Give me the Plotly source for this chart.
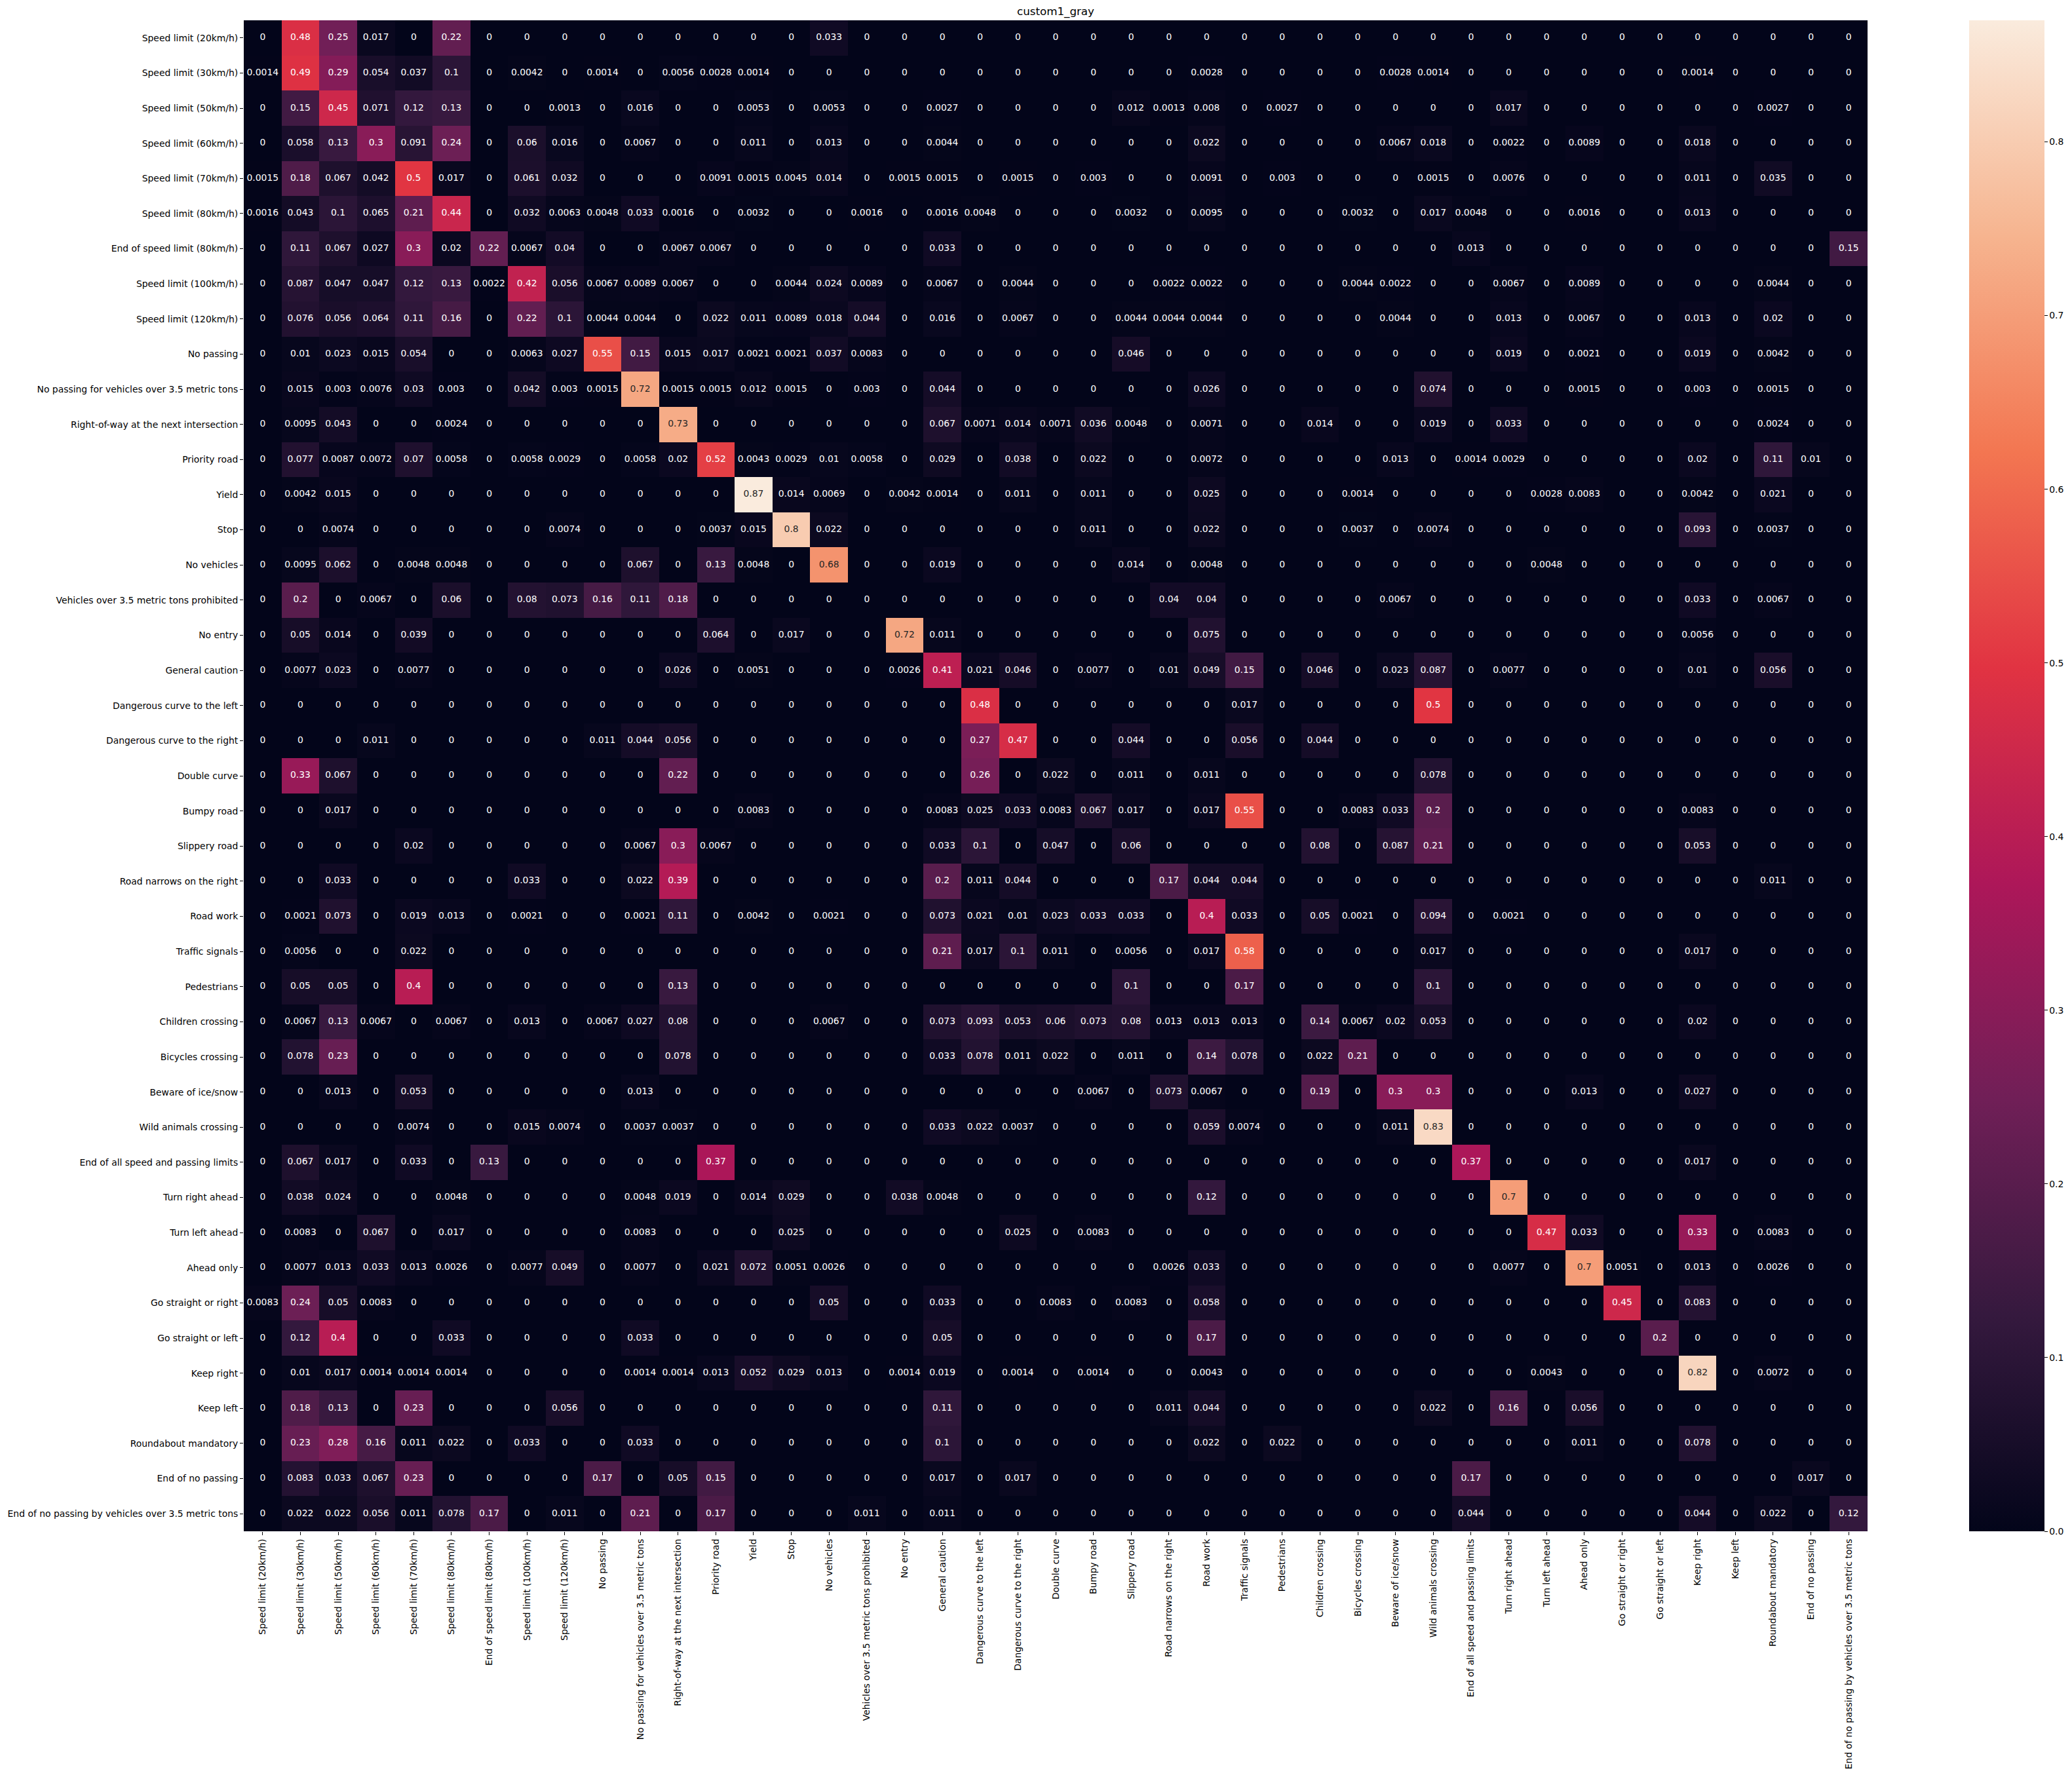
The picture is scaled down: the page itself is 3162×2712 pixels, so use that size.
import plotly.graph_objects as go

class_names = [
    "Speed limit (20km/h)", "Speed limit (30km/h)", "Speed limit (50km/h)",
    "Speed limit (60km/h)", "Speed limit (70km/h)", "Speed limit (80km/h)",
    "End of speed limit (80km/h)", "Speed limit (100km/h)", "Speed limit (120km/h)",
    "No passing", "No passing for vehicles over 3.5 metric tons",
    "Right-of-way at the next intersection", "Priority road", "Yield", "Stop",
    "No vehicles", "Vehicles over 3.5 metric tons prohibited", "No entry",
    "General caution", "Dangerous curve to the left", "Dangerous curve to the right",
    "Double curve", "Bumpy road", "Slippery road", "Road narrows on the right",
    "Road work", "Traffic signals", "Pedestrians", "Children crossing",
    "Bicycles crossing", "Beware of ice/snow", "Wild animals crossing",
    "End of all speed and passing limits", "Turn right ahead", "Turn left ahead",
    "Ahead only", "Go straight or right", "Go straight or left", "Keep right",
    "Keep left", "Roundabout mandatory", "End of no passing",
    "End of no passing by vehicles over 3.5 metric tons",
]

# Normalised confusion matrix (rows = true class, columns = predicted class)
cm_rows = [
    [0, .48, .25, .017, 0, .22, 0, 0, 0, 0, 0, 0, 0, 0, 0, .033, 0, 0, 0, 0, 0, 0,
     0, 0, 0, 0, 0, 0, 0, 0, 0, 0, 0, 0, 0, 0, 0, 0, 0, 0, 0, 0, 0],
    [.0014, .49, .29, .054, .037, .1, 0, .0042, 0, .0014, 0, .0056, .0028, .0014, 0, 0, 0, 0, 0, 0, 0, 0,
     0, 0, 0, .0028, 0, 0, 0, 0, .0028, .0014, 0, 0, 0, 0, 0, 0, .0014, 0, 0, 0, 0],
    [0, .15, .45, .071, .12, .13, 0, 0, .0013, 0, .016, 0, 0, .0053, 0, .0053, 0, 0, .0027, 0, 0, 0,
     0, .012, .0013, .008, 0, .0027, 0, 0, 0, 0, 0, .017, 0, 0, 0, 0, 0, 0, .0027, 0, 0],
    [0, .058, .13, .3, .091, .24, 0, .06, .016, 0, .0067, 0, 0, .011, 0, .013, 0, 0, .0044, 0, 0, 0,
     0, 0, 0, .022, 0, 0, 0, 0, .0067, .018, 0, .0022, 0, .0089, 0, 0, .018, 0, 0, 0, 0],
    [.0015, .18, .067, .042, .5, .017, 0, .061, .032, 0, 0, 0, .0091, .0015, .0045, .014, 0, .0015, .0015, 0, .0015, 0,
     .003, 0, 0, .0091, 0, .003, 0, 0, 0, .0015, 0, .0076, 0, 0, 0, 0, .011, 0, .035, 0, 0],
    [.0016, .043, .1, .065, .21, .44, 0, .032, .0063, .0048, .033, .0016, 0, .0032, 0, 0, .0016, 0, .0016, .0048, 0, 0,
     0, .0032, 0, .0095, 0, 0, 0, .0032, 0, .017, .0048, 0, 0, .0016, 0, 0, .013, 0, 0, 0, 0],
    [0, .11, .067, .027, .3, .02, .22, .0067, .04, 0, 0, .0067, .0067, 0, 0, 0, 0, 0, .033, 0, 0, 0,
     0, 0, 0, 0, 0, 0, 0, 0, 0, 0, .013, 0, 0, 0, 0, 0, 0, 0, 0, 0, .15],
    [0, .087, .047, .047, .12, .13, .0022, .42, .056, .0067, .0089, .0067, 0, 0, .0044, .024, .0089, 0, .0067, 0, .0044, 0,
     0, 0, .0022, .0022, 0, 0, 0, .0044, .0022, 0, 0, .0067, 0, .0089, 0, 0, 0, 0, .0044, 0, 0],
    [0, .076, .056, .064, .11, .16, 0, .22, .1, .0044, .0044, 0, .022, .011, .0089, .018, .044, 0, .016, 0, .0067, 0,
     0, .0044, .0044, .0044, 0, 0, 0, 0, .0044, 0, 0, .013, 0, .0067, 0, 0, .013, 0, .02, 0, 0],
    [0, .01, .023, .015, .054, 0, 0, .0063, .027, .55, .15, .015, .017, .0021, .0021, .037, .0083, 0, 0, 0, 0, 0,
     0, .046, 0, 0, 0, 0, 0, 0, 0, 0, 0, .019, 0, .0021, 0, 0, .019, 0, .0042, 0, 0],
    [0, .015, .003, .0076, .03, .003, 0, .042, .003, .0015, .72, .0015, .0015, .012, .0015, 0, .003, 0, .044, 0, 0, 0,
     0, 0, 0, .026, 0, 0, 0, 0, 0, .074, 0, 0, 0, .0015, 0, 0, .003, 0, .0015, 0, 0],
    [0, .0095, .043, 0, 0, .0024, 0, 0, 0, 0, 0, .73, 0, 0, 0, 0, 0, 0, .067, .0071, .014, .0071,
     .036, .0048, 0, .0071, 0, 0, .014, 0, 0, .019, 0, .033, 0, 0, 0, 0, 0, 0, .0024, 0, 0],
    [0, .077, .0087, .0072, .07, .0058, 0, .0058, .0029, 0, .0058, .02, .52, .0043, .0029, .01, .0058, 0, .029, 0, .038, 0,
     .022, 0, 0, .0072, 0, 0, 0, 0, .013, 0, .0014, .0029, 0, 0, 0, 0, .02, 0, .11, .01, 0],
    [0, .0042, .015, 0, 0, 0, 0, 0, 0, 0, 0, 0, 0, .87, .014, .0069, 0, .0042, .0014, 0, .011, 0,
     .011, 0, 0, .025, 0, 0, 0, .0014, 0, 0, 0, 0, .0028, .0083, 0, 0, .0042, 0, .021, 0, 0],
    [0, 0, .0074, 0, 0, 0, 0, 0, .0074, 0, 0, 0, .0037, .015, .8, .022, 0, 0, 0, 0, 0, 0,
     .011, 0, 0, .022, 0, 0, 0, .0037, 0, .0074, 0, 0, 0, 0, 0, 0, .093, 0, .0037, 0, 0],
    [0, .0095, .062, 0, .0048, .0048, 0, 0, 0, 0, .067, 0, .13, .0048, 0, .68, 0, 0, .019, 0, 0, 0,
     0, .014, 0, .0048, 0, 0, 0, 0, 0, 0, 0, 0, .0048, 0, 0, 0, 0, 0, 0, 0, 0],
    [0, .2, 0, .0067, 0, .06, 0, .08, .073, .16, .11, .18, 0, 0, 0, 0, 0, 0, 0, 0, 0, 0,
     0, 0, .04, .04, 0, 0, 0, 0, .0067, 0, 0, 0, 0, 0, 0, 0, .033, 0, .0067, 0, 0],
    [0, .05, .014, 0, .039, 0, 0, 0, 0, 0, 0, 0, .064, 0, .017, 0, 0, .72, .011, 0, 0, 0,
     0, 0, 0, .075, 0, 0, 0, 0, 0, 0, 0, 0, 0, 0, 0, 0, .0056, 0, 0, 0, 0],
    [0, .0077, .023, 0, .0077, 0, 0, 0, 0, 0, 0, .026, 0, .0051, 0, 0, 0, .0026, .41, .021, .046, 0,
     .0077, 0, .01, .049, .15, 0, .046, 0, .023, .087, 0, .0077, 0, 0, 0, 0, .01, 0, .056, 0, 0],
    [0, 0, 0, 0, 0, 0, 0, 0, 0, 0, 0, 0, 0, 0, 0, 0, 0, 0, 0, .48, 0, 0,
     0, 0, 0, 0, .017, 0, 0, 0, 0, .5, 0, 0, 0, 0, 0, 0, 0, 0, 0, 0, 0],
    [0, 0, 0, .011, 0, 0, 0, 0, 0, .011, .044, .056, 0, 0, 0, 0, 0, 0, 0, .27, .47, 0,
     0, .044, 0, 0, .056, 0, .044, 0, 0, 0, 0, 0, 0, 0, 0, 0, 0, 0, 0, 0, 0],
    [0, .33, .067, 0, 0, 0, 0, 0, 0, 0, 0, .22, 0, 0, 0, 0, 0, 0, 0, .26, 0, .022,
     0, .011, 0, .011, 0, 0, 0, 0, 0, .078, 0, 0, 0, 0, 0, 0, 0, 0, 0, 0, 0],
    [0, 0, .017, 0, 0, 0, 0, 0, 0, 0, 0, 0, 0, .0083, 0, 0, 0, 0, .0083, .025, .033, .0083,
     .067, .017, 0, .017, .55, 0, 0, .0083, .033, .2, 0, 0, 0, 0, 0, 0, .0083, 0, 0, 0, 0],
    [0, 0, 0, 0, .02, 0, 0, 0, 0, 0, .0067, .3, .0067, 0, 0, 0, 0, 0, .033, .1, 0, .047,
     0, .06, 0, 0, 0, 0, .08, 0, .087, .21, 0, 0, 0, 0, 0, 0, .053, 0, 0, 0, 0],
    [0, 0, .033, 0, 0, 0, 0, .033, 0, 0, .022, .39, 0, 0, 0, 0, 0, 0, .2, .011, .044, 0,
     0, 0, .17, .044, .044, 0, 0, 0, 0, 0, 0, 0, 0, 0, 0, 0, 0, 0, .011, 0, 0],
    [0, .0021, .073, 0, .019, .013, 0, .0021, 0, 0, .0021, .11, 0, .0042, 0, .0021, 0, 0, .073, .021, .01, .023,
     .033, .033, 0, .4, .033, 0, .05, .0021, 0, .094, 0, .0021, 0, 0, 0, 0, 0, 0, 0, 0, 0],
    [0, .0056, 0, 0, .022, 0, 0, 0, 0, 0, 0, 0, 0, 0, 0, 0, 0, 0, .21, .017, .1, .011,
     0, .0056, 0, .017, .58, 0, 0, 0, 0, .017, 0, 0, 0, 0, 0, 0, .017, 0, 0, 0, 0],
    [0, .05, .05, 0, .4, 0, 0, 0, 0, 0, 0, .13, 0, 0, 0, 0, 0, 0, 0, 0, 0, 0,
     0, .1, 0, 0, .17, 0, 0, 0, 0, .1, 0, 0, 0, 0, 0, 0, 0, 0, 0, 0, 0],
    [0, .0067, .13, .0067, 0, .0067, 0, .013, 0, .0067, .027, .08, 0, 0, 0, .0067, 0, 0, .073, .093, .053, .06,
     .073, .08, .013, .013, .013, 0, .14, .0067, .02, .053, 0, 0, 0, 0, 0, 0, .02, 0, 0, 0, 0],
    [0, .078, .23, 0, 0, 0, 0, 0, 0, 0, 0, .078, 0, 0, 0, 0, 0, 0, .033, .078, .011, .022,
     0, .011, 0, .14, .078, 0, .022, .21, 0, 0, 0, 0, 0, 0, 0, 0, 0, 0, 0, 0, 0],
    [0, 0, .013, 0, .053, 0, 0, 0, 0, 0, .013, 0, 0, 0, 0, 0, 0, 0, 0, 0, 0, 0,
     .0067, 0, .073, .0067, 0, 0, .19, 0, .3, .3, 0, 0, 0, .013, 0, 0, .027, 0, 0, 0, 0],
    [0, 0, 0, 0, .0074, 0, 0, .015, .0074, 0, .0037, .0037, 0, 0, 0, 0, 0, 0, .033, .022, .0037, 0,
     0, 0, 0, .059, .0074, 0, 0, 0, .011, .83, 0, 0, 0, 0, 0, 0, 0, 0, 0, 0, 0],
    [0, .067, .017, 0, .033, 0, .13, 0, 0, 0, 0, 0, .37, 0, 0, 0, 0, 0, 0, 0, 0, 0,
     0, 0, 0, 0, 0, 0, 0, 0, 0, 0, .37, 0, 0, 0, 0, 0, .017, 0, 0, 0, 0],
    [0, .038, .024, 0, 0, .0048, 0, 0, 0, 0, .0048, .019, 0, .014, .029, 0, 0, .038, .0048, 0, 0, 0,
     0, 0, 0, .12, 0, 0, 0, 0, 0, 0, 0, .7, 0, 0, 0, 0, 0, 0, 0, 0, 0],
    [0, .0083, 0, .067, 0, .017, 0, 0, 0, 0, .0083, 0, 0, 0, .025, 0, 0, 0, 0, 0, .025, 0,
     .0083, 0, 0, 0, 0, 0, 0, 0, 0, 0, 0, 0, .47, .033, 0, 0, .33, 0, .0083, 0, 0],
    [0, .0077, .013, .033, .013, .0026, 0, .0077, .049, 0, .0077, 0, .021, .072, .0051, .0026, 0, 0, 0, 0, 0, 0,
     0, 0, .0026, .033, 0, 0, 0, 0, 0, 0, 0, .0077, 0, .7, .0051, 0, .013, 0, .0026, 0, 0],
    [.0083, .24, .05, .0083, 0, 0, 0, 0, 0, 0, 0, 0, 0, 0, 0, .05, 0, 0, .033, 0, 0, .0083,
     0, .0083, 0, .058, 0, 0, 0, 0, 0, 0, 0, 0, 0, 0, .45, 0, .083, 0, 0, 0, 0],
    [0, .12, .4, 0, 0, .033, 0, 0, 0, 0, .033, 0, 0, 0, 0, 0, 0, 0, .05, 0, 0, 0,
     0, 0, 0, .17, 0, 0, 0, 0, 0, 0, 0, 0, 0, 0, 0, .2, 0, 0, 0, 0, 0],
    [0, .01, .017, .0014, .0014, .0014, 0, 0, 0, 0, .0014, .0014, .013, .052, .029, .013, 0, .0014, .019, 0, .0014, 0,
     .0014, 0, 0, .0043, 0, 0, 0, 0, 0, 0, 0, 0, .0043, 0, 0, 0, .82, 0, .0072, 0, 0],
    [0, .18, .13, 0, .23, 0, 0, 0, .056, 0, 0, 0, 0, 0, 0, 0, 0, 0, .11, 0, 0, 0,
     0, 0, .011, .044, 0, 0, 0, 0, 0, .022, 0, .16, 0, .056, 0, 0, 0, 0, 0, 0, 0],
    [0, .23, .28, .16, .011, .022, 0, .033, 0, 0, .033, 0, 0, 0, 0, 0, 0, 0, .1, 0, 0, 0,
     0, 0, 0, .022, 0, .022, 0, 0, 0, 0, 0, 0, 0, .011, 0, 0, .078, 0, 0, 0, 0],
    [0, .083, .033, .067, .23, 0, 0, 0, 0, .17, 0, .05, .15, 0, 0, 0, 0, 0, .017, 0, .017, 0,
     0, 0, 0, 0, 0, 0, 0, 0, 0, 0, .17, 0, 0, 0, 0, 0, 0, 0, 0, .017, 0],
    [0, .022, .022, .056, .011, .078, .17, 0, .011, 0, .21, 0, .17, 0, 0, 0, .011, 0, .011, 0, 0, 0,
     0, 0, 0, 0, 0, 0, 0, 0, 0, 0, .044, 0, 0, 0, 0, 0, .044, 0, .022, 0, .12],
]
assert len(cm_rows) == 43 and all(len(r) == 43 for r in cm_rows)

colorbar_ticks = [0.0, 0.1, 0.2, 0.3, 0.4, 0.5, 0.6, 0.7, 0.8]

# seaborn "rocket" colormap anchors
rocket_anchors = [
    (0.0, (3, 5, 26)),
    (1 / 7, (53, 25, 62)),
    (2 / 7, (112, 31, 87)),
    (3 / 7, (173, 23, 89)),
    (4 / 7, (225, 51, 66)),
    (5 / 7, (243, 118, 81)),
    (6 / 7, (246, 180, 143)),
    (1.0, (250, 235, 221)),
]
colorscale = [[p, "rgb(%d,%d,%d)" % c] for p, c in rocket_anchors]

n = len(class_names)
zmax = max(max(r) for r in cm_rows)
zmin = 0.0


def cmap(t):
    t = min(max(t, 0.0), 1.0)
    for (p0, c0), (p1, c1) in zip(rocket_anchors[:-1], rocket_anchors[1:]):
        if t <= p1:
            f = (t - p0) / (p1 - p0) if p1 > p0 else 0
            return [(a + (b - a) * f) / 255.0 for a, b in zip(c0, c1)]
    return [c / 255.0 for c in rocket_anchors[-1][1]]


def luminance(rgb):
    lin = [c / 12.92 if c <= 0.03928 else ((c + 0.055) / 1.055) ** 2.4 for c in rgb]
    return 0.2126 * lin[0] + 0.7152 * lin[1] + 0.0722 * lin[2]


xs, ys, texts, tcolors = [], [], [], []
for i, row in enumerate(cm_rows):
    for j, v in enumerate(row):
        xs.append(j)
        ys.append(i)
        texts.append(format(v, ".2g"))
        lum = luminance(cmap((v - zmin) / (zmax - zmin)))
        tcolors.append("#262626" if lum > 0.39 else "#ffffff")

FONT = "DejaVu Sans"
L, R, T, B = 371, 311, 31, 371
W, H = 3162, 2712
plot_w = W - L - R

fig = go.Figure()
fig.add_trace(go.Heatmap(
    z=cm_rows, x=list(range(n)), y=list(range(n)),
    zmin=zmin, zmax=zmax, colorscale=colorscale,
    hoverinfo="skip",
    colorbar=dict(
        thickness=115, thicknessmode="pixels",
        len=1, lenmode="fraction",
        x=(3006 - L) / plot_w, xanchor="left", xpad=0,
        y=0.5, yanchor="middle", ypad=0,
        outlinewidth=0,
        tickmode="array", tickvals=colorbar_ticks,
        ticktext=["%.1f" % t for t in colorbar_ticks],
        ticks="outside", ticklen=5, tickwidth=1.1, tickcolor="black",
        tickfont=dict(family=FONT, size=13.9, color="black"),
    ),
))
fig.add_trace(go.Scatter(
    x=xs, y=ys, mode="text", text=texts,
    textfont=dict(family=FONT, size=13.9, color=tcolors),
    hoverinfo="skip", showlegend=False,
))

axis_common = dict(
    tickmode="array", tickvals=list(range(n)), ticktext=class_names,
    ticks="outside", ticklen=5, tickwidth=1.1, tickcolor="black",
    showgrid=False, zeroline=False, showline=False,
    tickfont=dict(family=FONT, size=13.9, color="black"),
)
fig.update_xaxes(range=[-0.5, n - 0.5], tickangle=-90, **axis_common)
fig.update_yaxes(range=[n - 0.5, -0.5], **axis_common)

fig.update_layout(
    width=W, height=H,
    margin=dict(l=L, r=R, t=T, b=B, pad=0),
    paper_bgcolor="white", plot_bgcolor="white",
    font=dict(family=FONT, color="black"),
    showlegend=False,
    annotations=[dict(
        text="custom1_gray", xref="paper", yref="paper", x=0.5, y=1,
        xanchor="center", yanchor="bottom", yshift=1, showarrow=False,
        font=dict(family=FONT, size=16.7, color="black"),
    )],
)

fig.write_html(
    "out.html",
    config={"displayModeBar": False},
    post_script="document.body.style.margin='0';document.body.style.overflow='hidden';",
)
